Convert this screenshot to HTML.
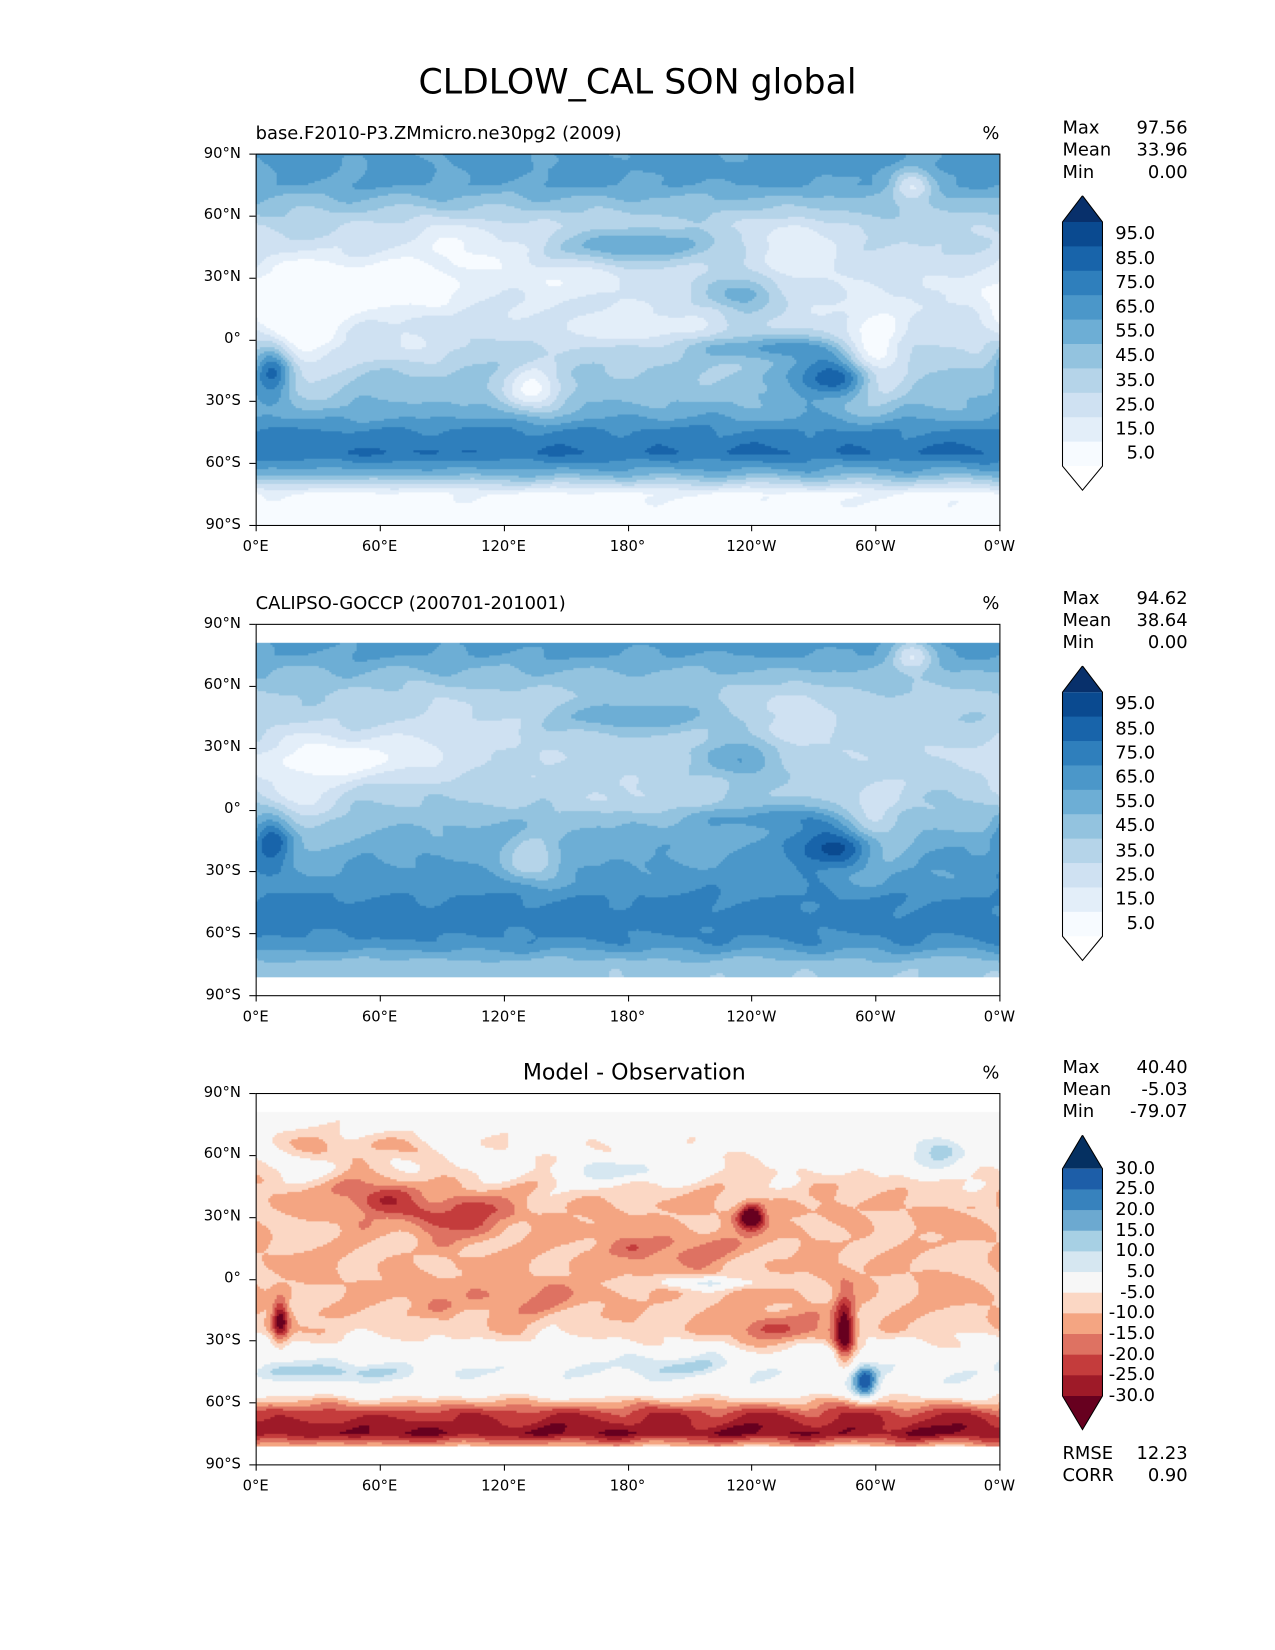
<!DOCTYPE html>
<html><head><meta charset="utf-8">
<style>
html,body{margin:0;background:#fff;width:1275px;height:1650px;overflow:hidden;}
#root{position:relative;width:1212px;height:1568px;font-family:"DejaVu Sans","Liberation Sans",sans-serif;color:#000;overflow:hidden;transform:scale(1.05198);transform-origin:0 0;}
.t{position:absolute;white-space:nowrap;}
canvas{position:absolute;}
.frame{position:absolute;border:1px solid #000;box-sizing:border-box;}
</style></head>
<body>
<div id="root">
<div class="t" style="left:0;width:1212px;text-align:center;top:58px;font-size:33px;">CLDLOW_CAL SON global</div>
</div>
<script>
// ---- data ----
const zonalLats = [85,75,65,55,45,35,25,15,5,-5,-15,-25,-35,-45,-55,-65,-75,-85];
const modelZonal = [62,60,45,32,30,26,22,22,28,35,40,45,55,72,80,55,8,5];
const obsZonal   = [65,60,48,38,38,35,33,35,40,48,55,60,65,72,75,68,45,40];
const diffZonal  = [0,0,-2,-4,-8,-10,-10,-10,-10,-10,-10,-8,0,2,0,-22,-30,0];
// features: [lon, lat, rx(deg), ry(deg), amplitude]
const modelFeatures = [[280,-18,22,10,50],[8,-15,10,14,55],[235,22,18,10,35],[185,45,40,8,30],[20,5,22,28,-35],[50,25,45,12,-30],[100,45,40,14,-20],[135,-25,14,11,-40],[300,-10,14,22,-40],[260,45,22,14,-20],[318,75,10,8,-40],[180,5,40,8,-15],[75,-5,20,8,-15],[150,30,25,8,-10],[250,-4,35,6,30]];
const obsFeatures = [[280,-18,22,10,40],[8,-15,10,14,40],[235,25,18,10,30],[185,45,40,8,20],[20,5,22,28,-20],[50,25,45,12,-25],[100,45,40,14,-10],[135,-25,14,11,-30],[300,-10,14,22,-25],[260,45,22,14,-15],[318,75,10,8,-40],[180,5,40,8,-10],[250,-4,35,6,20]];
const diffFeatures = [[330,60,15,8,18],[175,52,25,6,14],[240,30,6,6,-30],[285,-25,5,15,-30],[295,-50,6,8,25],[220,-2,30,3,14],[60,40,20,10,-15],[100,30,20,10,-15],[40,-45,40,5,10],[200,-42,40,5,8],[250,-25,20,8,-15],[45,65,40,8,-8],[12,-20,4,10,-25],[200,15,40,8,-8],[120,-10,40,8,-6]];
const bluesLevels = [0,10,20,30,40,50,60,70,80,90,100];
const bluesColors = ["#f7fbff","#e3eef9","#cfe1f2","#b5d4e9","#93c3df","#6daed5","#4b97c9","#2f7fbc","#1864aa","#0a4a90","#08306b"];
const diffLevels = [-30,-25,-20,-15,-10,-5,5,10,15,20,25,30];
const diffColors = ["#67001f","#9e1a28","#c43c3c","#de7262","#f4a582","#fbd7c4","#f7f7f7","#d6e7f1","#a7d0e4","#6ca9d0","#3782bd","#1d5ea8","#053061"];
const latTicks = ["90°N","60°N","30°N","0°","30°S","60°S","90°S"];
const latTickVals = [90,60,30,0,-30,-60,-90];
const lonTicks = ["0°E","60°E","120°E","180°","120°W","60°W","0°W"];
const lonTickVals = [0,60,120,180,240,300,360];
const blueTickLabels = ["95.0","85.0","75.0","65.0","55.0","45.0","35.0","25.0","15.0","5.0"];
const diffTickLabels = ["30.0","25.0","20.0","15.0","10.0","5.0","-5.0","-10.0","-15.0","-20.0","-25.0","-30.0"];
const panels = [
 {top:146, title:"base.F2010-P3.ZMmicro.ne30pg2 (2009)", center:false, zonal:modelZonal, feats:modelFeatures, diff:false, latMax:90, stats:[["Max","97.56"],["Mean","33.96"],["Min","0.00"]]},
 {top:593, title:"CALIPSO-GOCCP (200701-201001)", center:false, zonal:obsZonal, feats:obsFeatures, diff:false, latMax:81, stats:[["Max","94.62"],["Mean","38.64"],["Min","0.00"]]},
 {top:1039, title:"Model - Observation", center:true, zonal:diffZonal, feats:diffFeatures, diff:true, latMax:81, stats:[["Max","40.40"],["Mean","-5.03"],["Min","-79.07"]]}
];
// ---- layout ----
const root=document.getElementById('root');
const L=243,W=707,H=353;
function xOf(lon){return L+lon/360*W;}
function addText(txt,x,y,size,name,align){
  const d=document.createElement('div');d.className='t';d.textContent=txt;
  
  
  d.style.fontSize=size+'px';d.style.top=(y-size*0.6)+'px';
  if(align==='right'){d.style.right=(1212-x)+'px';}
  else if(align==='center'){d.style.left=(x-100)+'px';d.style.width='200px';d.style.textAlign='center';}
  else d.style.left=x+'px';
  root.appendChild(d);return d;
}
function zonalAt(arr,lat){
  if(lat>=zonalLats[0])return arr[0];
  for(let i=0;i<zonalLats.length-1;i++){const a=zonalLats[i],b=zonalLats[i+1];
    if(lat<=a&&lat>=b){const t=(a-lat)/(a-b);return arr[i]*(1-t)+arr[i+1]*t;}}
  return arr[arr.length-1];
}
function colorFor(v,diff){
  const lv=diff?diffLevels:bluesLevels, cs=diff?diffColors:bluesColors;
  if(!diff){let i=Math.floor(v/10);i=Math.max(0,Math.min(10,i));return cs[i];}
  let i=0;while(i<lv.length&&v>=lv[i])i++;return cs[i];
}
panels.forEach((p,pi)=>{
  const T=p.top;
  const cv=document.createElement('canvas');cv.width=W;cv.height=H;cv.style.left=L+'px';cv.style.top=T+'px';
  
  
  root.appendChild(cv);
  const ctx=cv.getContext('2d');ctx.fillStyle='#fff';ctx.fillRect(0,0,W,H);
  const c=2;
  for(let y=0;y<H;y+=c){const lat=90-(y+c/2)/H*180;
    if(Math.abs(lat)>p.latMax)continue;
    for(let x=0;x<W;x+=c){const lon=(x+c/2)/W*360;
      let v=zonalAt(p.zonal,lat);
      p.feats.forEach(f=>{let dl=Math.abs(lon-f[0]);if(dl>180)dl=360-dl;
        const r=(dl/f[2])**2+((lat-f[1])/f[3])**2;v+=f[4]*Math.exp(-r);});
      v+=Math.sin(lon*0.13+Math.sin(lat*0.21)*2)*2+Math.cos(lat*0.19+Math.sin(lon*0.07)*3)*2;
      ctx.fillStyle=colorFor(v,p.diff);ctx.fillRect(x,y,c,c);}}
  const fr=document.createElement('div');fr.className='frame';
  
  
  fr.style.cssText=`left:${L}px;top:${T}px;width:${W+1}px;height:${H+1}px;`;root.appendChild(fr);
  if(p.center)addText(p.title,597,T-19,21,'panel-title','center');
  else addText(p.title,L,T-19,17,'panel-title');
  addText('%',950,T-19,17,'units-label','right');
  latTickVals.forEach((v,i)=>{const y=T+(90-v)/180*H;
    addText(latTicks[i],229,y,14,'lat-tick-label','right');
    const tk=document.createElement('div');tk.style.cssText=`position:absolute;left:237px;top:${y}px;width:6px;height:1px;background:#000`;
    
    
    root.appendChild(tk);});
  lonTickVals.forEach((v,i)=>{const x=xOf(v);
    addText(lonTicks[i],x,T+H+21,14,'lon-tick-label','center');
    const tk=document.createElement('div');tk.style.cssText=`position:absolute;left:${x}px;top:${T+H}px;width:1px;height:6px;background:#000`;
    
    
    root.appendChild(tk);});
  p.stats.forEach((s,i)=>{addText(s[0],1010,T-24+i*21,17,'stat-name');addText(s[1],1129,T-24+i*21,17,'stat-value','right');});
  // colorbar
  const svgNS='http://www.w3.org/2000/svg';
  const svg=document.createElementNS(svgNS,'svg');
  
  
  svg.setAttribute('width','60');svg.setAttribute('height','300');
  svg.style.cssText=`position:absolute;left:1000px;top:${T+40}px;`;
  const x0=10,x1=48;
  const segs=p.diff?diffColors.length-2:bluesColors.length-1;
  const top=p.diff?32:25, bot=p.diff?248:257;
  const sh=(bot-top)/segs;
  const cols=p.diff?diffColors.slice(1,-1).reverse():bluesColors.slice(0,10).reverse();
  const hiC=p.diff?diffColors[diffColors.length-1]:bluesColors[10];
  const loC=p.diff?diffColors[0]:"#ffffff";
  function el(tag,attrs){const e=document.createElementNS(svgNS,tag);for(const k in attrs)e.setAttribute(k,attrs[k]);svg.appendChild(e);return e;}
  el('polygon',{points:`${x0},${top} ${(x0+x1)/2},0 ${x1},${top}`,fill:hiC});
  cols.forEach((cc,i)=>el('rect',{x:x0,y:top+i*sh,width:x1-x0,height:sh+0.5,fill:cc}));
  el('polygon',{points:`${x0},${bot} ${(x0+x1)/2},${bot+(p.diff?32:23)} ${x1},${bot}`,fill:loC});
  el('polygon',{points:`${x0},${top} ${(x0+x1)/2},0 ${x1},${top} ${x1},${bot} ${(x0+x1)/2},${bot+(p.diff?32:23)} ${x0},${bot}`,fill:'none',stroke:'#000','stroke-width':1});
  root.appendChild(svg);
  const labels=p.diff?diffTickLabels:blueTickLabels;
  labels.forEach((lb,i)=>{const y=T+40+(p.diff?top+i*sh:top+(i+0.5)*sh);
    addText(lb,1098,y,17,'colorbar-tick-label','right');});
  if(p.diff){addText('RMSE',1010,T+H-10,17,'rmse-label');addText('12.23',1129,T+H-10,17,'rmse-value','right');
    addText('CORR',1010,T+H+11,17,'corr-label');addText('0.90',1129,T+H+11,17,'corr-value','right');}
});
</script>
</body></html>
